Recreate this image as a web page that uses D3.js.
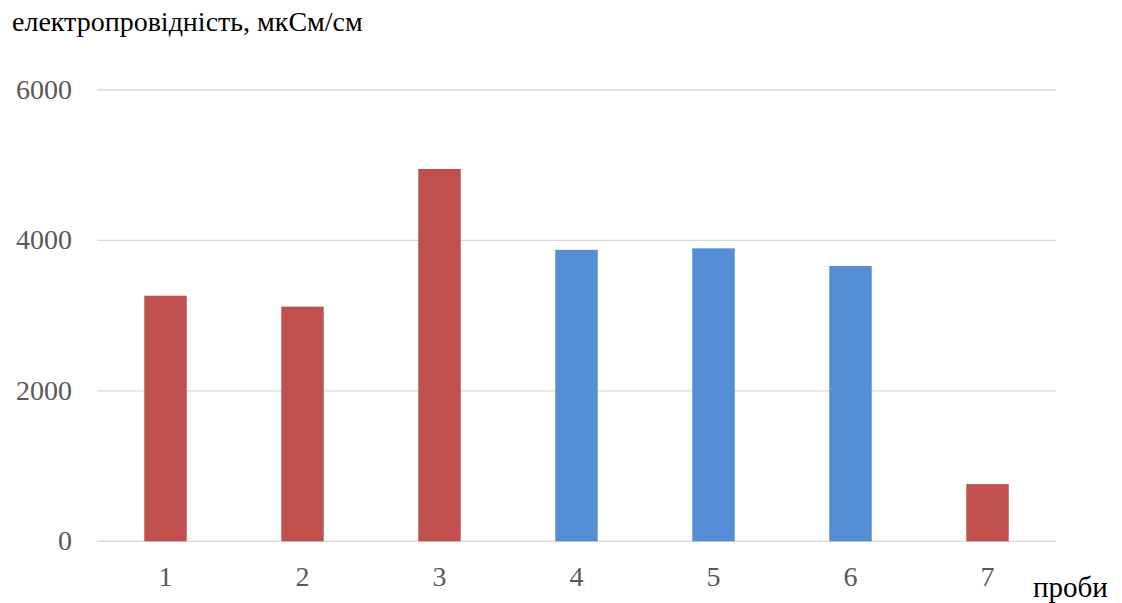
<!DOCTYPE html>
<html>
<head>
<meta charset="utf-8">
<script src="https://cdn.jsdelivr.net/npm/d3@7"></script>
</head>
<body style="margin:0">
<svg id="chart" width="1122" height="603" style="display:block;background:#fff"></svg>
<script>
// Conductivity per sample (µS/cm)
const categories = ["1", "2", "3", "4", "5", "6", "7"];
const values = [3265, 3120, 4950, 3875, 3895, 3660, 760];
const groups = ["red", "red", "red", "blue", "blue", "blue", "red"];
const yTicks = [0, 2000, 4000, 6000];
const yTitle = "електропровідність, мкСм/см";
const xTitle = "проби";

const colors = { red: "#C0504D", blue: "#558ED5" };

const svg = d3.select("#chart");
const plot = { left: 97, right: 1056, top: 90, bottom: 541.3 };

const x = d3.scaleBand().domain(categories).range([plot.left, plot.right]).padding(0);
const y = d3.scaleLinear().domain([0, 6000]).range([plot.bottom, plot.top]);
const barW = x.bandwidth() * 0.31;

const serifFont = '"Liberation Serif"';

// gridlines
svg.append("g")
  .selectAll("line")
  .data(yTicks)
  .join("line")
  .attr("x1", plot.left).attr("x2", plot.right)
  .attr("y1", d => y(d)).attr("y2", d => y(d))
  .attr("stroke", "#d9d9d9")
  .attr("stroke-width", 1.3);

// bars
svg.append("g")
  .selectAll("rect")
  .data(categories)
  .join("rect")
  .attr("x", d => x(d) + x.bandwidth() / 2 - barW / 2)
  .attr("width", barW)
  .attr("y", (d, i) => y(values[i]))
  .attr("height", (d, i) => y(0) - y(values[i]))
  .attr("fill", (d, i) => colors[groups[i]]);

// y tick labels
svg.append("g")
  .selectAll("text")
  .data(yTicks)
  .join("text")
  .attr("x", plot.left - 25)
  .attr("y", d => y(d))
  .attr("dy", "0.32em")
  .attr("text-anchor", "end")
  .style("font-family", serifFont)
  .attr("font-size", 28)
  .attr("fill", "#595959")
  .text(d3.format("d"));

// x tick labels
svg.append("g")
  .selectAll("text")
  .data(categories)
  .join("text")
  .attr("x", d => x(d) + x.bandwidth() / 2)
  .attr("y", plot.bottom + 45)
  .attr("text-anchor", "middle")
  .style("font-family", serifFont)
  .attr("font-size", 28)
  .attr("fill", "#595959")
  .text(d => d);

// axis titles
svg.append("text")
  .attr("x", 12).attr("y", 31)
  .style("font-family", serifFont)
  .attr("font-size", 28)
  .attr("fill", "#000")
  .text(yTitle);

svg.append("text")
  .attr("x", 1033).attr("y", 597)
  .style("font-family", serifFont)
  .attr("font-size", 29)
  .attr("fill", "#000")
  .text(xTitle);
</script>
</body>
</html>
